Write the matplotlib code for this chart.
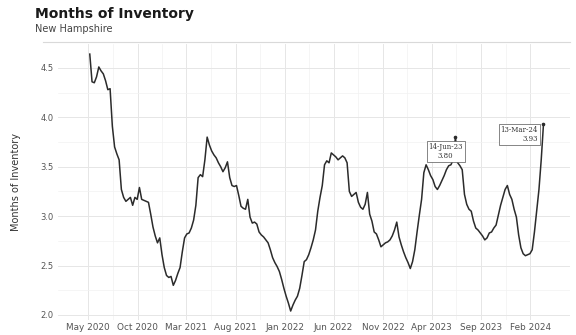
import numpy as np
import pandas as pd
import matplotlib
matplotlib.use("Agg")
import matplotlib.pyplot as plt
import matplotlib.dates as mdates

# weekly readings, first Wednesday of May 2020 through mid March 2024
dates = pd.date_range("2020-05-06", "2024-03-13", freq="7D")
months_inv = [
    4.64, 4.36, 4.35, 4.41, 4.51, 4.47, 4.44, 4.37, 4.28, 4.29,
    3.91, 3.70, 3.63, 3.57, 3.27, 3.19, 3.15, 3.17, 3.19, 3.11,
    3.19, 3.17, 3.29, 3.17, 3.16, 3.15, 3.14, 3.02, 2.89, 2.80,
    2.73, 2.78, 2.61, 2.48, 2.40, 2.38, 2.39, 2.30, 2.35, 2.42,
    2.48, 2.64, 2.78, 2.82, 2.83, 2.88, 2.96, 3.11, 3.39, 3.42,
    3.40, 3.57, 3.80, 3.72, 3.66, 3.62, 3.59, 3.54, 3.50, 3.45,
    3.49, 3.55, 3.39, 3.31, 3.30, 3.31, 3.21, 3.10, 3.08, 3.07,
    3.17, 2.99, 2.93, 2.94, 2.92, 2.84, 2.81, 2.79, 2.76, 2.73,
    2.66, 2.58, 2.53, 2.49, 2.44, 2.36, 2.27, 2.19, 2.12, 2.04,
    2.10, 2.15, 2.19, 2.27, 2.40, 2.54, 2.56, 2.61, 2.68, 2.76,
    2.86, 3.05, 3.19, 3.31, 3.52, 3.56, 3.54, 3.64, 3.62, 3.60,
    3.57, 3.59, 3.61, 3.59, 3.54, 3.25, 3.20, 3.22, 3.24, 3.14,
    3.09, 3.07, 3.12, 3.24, 3.02, 2.95, 2.84, 2.82, 2.76, 2.69,
    2.71, 2.73, 2.74, 2.76, 2.80, 2.86, 2.94, 2.79, 2.71, 2.64,
    2.58, 2.53, 2.47, 2.54, 2.66, 2.84, 3.01, 3.17, 3.44, 3.52,
    3.47, 3.41, 3.37, 3.30, 3.27, 3.31, 3.36, 3.41, 3.47, 3.51,
    3.52, 3.57, 3.80, 3.54, 3.51, 3.47, 3.22, 3.12, 3.07, 3.05,
    2.95, 2.88, 2.86, 2.83, 2.80, 2.76, 2.78, 2.83, 2.84, 2.88,
    2.91, 3.01, 3.11, 3.19, 3.27, 3.31, 3.22, 3.17, 3.07, 2.99,
    2.81, 2.68, 2.62, 2.60, 2.61, 2.62, 2.66, 2.84, 3.05, 3.27,
    3.57, 3.93,
]
s = pd.Series(months_inv, index=dates)

y_ticks = [2.0, 2.5, 3.0, 3.5, 4.0, 4.5]
x_ticks = pd.date_range("2020-05-01", "2024-02-01", freq="5MS")

fig = plt.figure(figsize=(5.76, 3.35), dpi=100)
ax = fig.add_axes([0.101, 0.045, 0.889, 0.823])

ax.plot(s.index, s.values, color="#2b2b2b", lw=1.1)

# annotations: spring 2023 spike and latest value
for d in [pd.Timestamp("2023-06-14"), s.index[-1]]:
    v = s[d]
    ax.plot(d, v, marker="o", ms=1.6, color="#2b2b2b")
    lbl = f"{d.strftime('%d-%b-%y')}\n{v:.2f}"
    if d == s.index[-1]:
        ax.annotate(lbl, (d, v), xytext=(-4, -1), textcoords="offset points",
                    ha="right", va="top", fontsize=5, family="DejaVu Serif",
                    color="#333333", linespacing=1.3,
                    bbox=dict(boxstyle="square,pad=0.25", fc="white",
                              ec="#555555", lw=0.5))
    else:
        ax.annotate(lbl, (d, v), xytext=(-7, -4), textcoords="offset points",
                    ha="center", va="top", fontsize=5, family="DejaVu Serif",
                    color="#333333", linespacing=1.3,
                    bbox=dict(boxstyle="square,pad=0.25", fc="white",
                              ec="#555555", lw=0.5))

ax.set_xlim(pd.Timestamp("2020-01-29"), pd.Timestamp("2024-06-04"))
ax.set_ylim(1.95, 4.74)
ax.set_yticks(y_ticks)
ax.set_yticklabels([f"{t:.1f}" for t in y_ticks])
ax.set_xticks(x_ticks)
ax.set_xticklabels([d.strftime("%b %Y") for d in x_ticks])
ax.set_xticks(x_ticks[:-1] + (x_ticks[1:] - x_ticks[:-1]) / 2, minor=True)
ax.set_yticks([2.25, 2.75, 3.25, 3.75, 4.25], minor=True)

ax.grid(True, which="major", color="#e6e6e6", lw=0.7)
ax.grid(True, which="minor", color="#f2f2f2", lw=0.5)
ax.set_axisbelow(True)
for sp in ax.spines.values():
    sp.set_visible(False)
ax.tick_params(which="both", length=0)
ax.tick_params(axis="x", labelsize=6.4, colors="#555555", pad=2)
ax.tick_params(axis="y", labelsize=6, colors="#555555", pad=3)
ax.set_ylabel("Months of Inventory", fontsize=7, color="#333333", labelpad=14)

fig.text(0.061, 0.945, "Months of Inventory", fontsize=10, fontweight="heavy",
         color="#1a1a1a", ha="left", va="baseline")
fig.text(0.061, 0.903, "New Hampshire", fontsize=7, color="#444444",
         ha="left", va="baseline")
fig.add_artist(plt.Line2D([0.075, 0.99], [0.876, 0.876], color="#d9d9d9",
                          lw=0.8, transform=fig.transFigure))

fig.savefig("out.png", dpi=100)
